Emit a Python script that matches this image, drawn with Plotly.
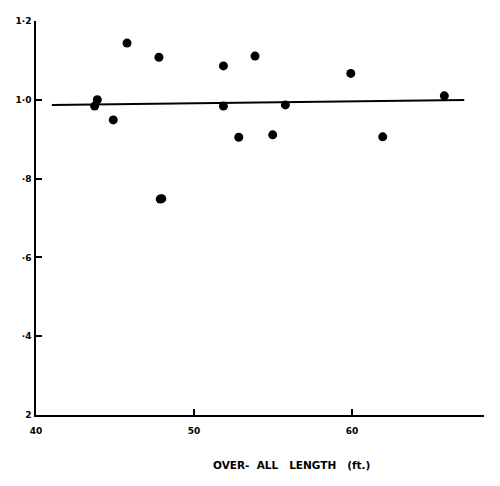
import plotly.graph_objects as go

# Observations (over-all length ft, ratio)
length_ft = [43.71, 43.88, 44.89, 45.76, 47.78, 47.86, 47.96, 51.86, 51.86, 52.83, 53.86, 54.98, 55.78, 59.92, 61.94, 65.84]
ratio = [0.984, 1.000, 0.949, 1.144, 1.108, 0.748, 0.749, 1.086, 0.984, 0.905, 1.111, 0.911, 0.987, 1.067, 0.906, 1.010]

# Fitted line end points
fit_x = [41.0, 67.1]
fit_y = [0.987, 0.9995]

x_tick_vals = [40, 50, 60]
x_tick_text = ["40", "50", "60"]
y_tick_vals = [0.2, 0.4, 0.6, 0.8, 1.0, 1.2]
y_tick_text = ["2", "·4", "·6", "·8", "1·0", "1·2"]

# page body has an 8px margin; compensate so the plot lands where the reference has it
OFF = 8
W, H = 500 - OFF, 486 - OFF
L, R, T, B = 36 - OFF, 16, 21 - OFF, 71

fig = go.Figure()
fig.add_trace(go.Scatter(x=fit_x, y=fit_y, mode="lines",
                         line=dict(color="black", width=2), hoverinfo="skip"))
fig.add_trace(go.Scatter(x=length_ft, y=ratio, mode="markers",
                         marker=dict(color="black", size=9)))

pw = W - L - R
ph = H - T - B
fig.update_layout(
    width=W, height=H,
    margin=dict(l=L, r=R, t=T, b=B),
    paper_bgcolor="white", plot_bgcolor="white",
    showlegend=False,
    font=dict(family="DejaVu Sans", size=9, color="black"),
    xaxis=dict(range=[40, 68.35], tickvals=x_tick_vals, ticktext=x_tick_text,
               ticks="inside", ticklen=6, tickwidth=1.5, tickcolor="black",
               tickfont=dict(weight="bold", size=9), ticklabelstandoff=6,
               showline=True, linecolor="black", linewidth=1.5,
               showgrid=False, zeroline=False, automargin=False),
    yaxis=dict(range=[0.2, 1.2], tickvals=y_tick_vals, ticktext=y_tick_text,
               ticks="inside", ticklen=6, tickwidth=1.5, tickcolor="black",
               tickfont=dict(weight="bold", size=9), ticklabelstandoff=1,
               showline=True, linecolor="black", linewidth=1.5,
               showgrid=False, zeroline=False, automargin=False),
    annotations=[dict(text="OVER-  ALL   LENGTH   (ft.)",
                      x=(291 - 36) / pw, y=(415 - 465) / ph,
                      xref="paper", yref="paper", showarrow=False,
                      xanchor="center", yanchor="middle",
                      font=dict(size=10.5, weight="bold"))],
)
fig.write_html("out.html")
